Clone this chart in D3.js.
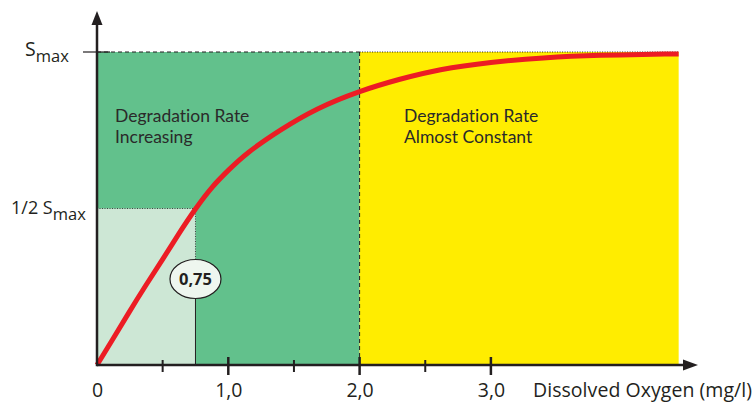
<!DOCTYPE html>
<html><head><meta charset="utf-8">
<script src="https://cdn.jsdelivr.net/npm/d3@7"></script>
<style>
html,body{margin:0;padding:0;background:#fff;}
svg{display:block;font-family:"Open Sans",sans-serif;}
text{font-variant-ligatures:none;}
</style></head>
<body><svg id="c" width="756" height="402"></svg>
<script>
// Data (x = dissolved oxygen mg/l, y = S / Smax)
const curveX = [0, 0.12, 0.24, 0.37, 0.5, 0.62, 0.75, 0.88, 1.0, 1.13, 1.4, 1.67, 2.0, 2.3, 2.6, 3.0, 3.4, 3.8, 4.43];
const curveY = [0, 0.082, 0.166, 0.254, 0.337, 0.418, 0.5, 0.572, 0.622, 0.675, 0.753, 0.82, 0.876, 0.913, 0.945, 0.968, 0.982, 0.99, 0.994];
const tickValues = [0, 1, 2, 3];
const tickLabels = ["0", "1,0", "2,0", "3,0"];
const majorTicks = [1, 2, 3];
const minorTicks = [0.5, 1.5, 2.5];
const halfSat = 0.75;       // K (0,75)
const boundary = 2.0;       // start of "almost constant" zone
const xEnd = 4.43;          // right edge of shaded area
const zoneLabels = [["Degradation Rate", "Increasing"], ["Degradation Rate", "Almost Constant"]];
const xTitle = "Dissolved Oxygen (mg/l)";

const svg = d3.select("#c");
const x = d3.scaleLinear().domain([0, 1]).range([97, 228.3]);
const y = d3.scaleLinear().domain([0, 1]).range([365, 52]);
const ink = "#231f20";

// zones
svg.append("rect").attr("x", x(0)).attr("y", y(1)).attr("width", x(boundary) - x(0)).attr("height", y(0) - y(1)).attr("fill", "#62c18c");
svg.append("rect").attr("x", x(boundary)).attr("y", y(1)).attr("width", x(xEnd) - x(boundary)).attr("height", y(0) - y(1)).attr("fill", "#ffed00");
svg.append("rect").attr("x", x(0)).attr("y", y(0.5)).attr("width", x(halfSat) - x(0)).attr("height", y(0) - y(0.5)).attr("fill", "#cde7d5");

// guide lines
svg.append("line").attr("x1", x(0)).attr("x2", x(boundary)).attr("y1", y(1)).attr("y2", y(1))
  .attr("stroke", ink).attr("stroke-width", 1).attr("stroke-dasharray", "4,3");
svg.append("line").attr("x1", x(boundary)).attr("x2", x(xEnd)).attr("y1", y(1)).attr("y2", y(1))
  .attr("stroke", ink).attr("stroke-width", 1).attr("stroke-dasharray", "1,1.5");
svg.append("line").attr("x1", x(boundary)).attr("x2", x(boundary)).attr("y1", y(1)).attr("y2", y(0))
  .attr("stroke", ink).attr("stroke-width", 1).attr("stroke-dasharray", "4,3");
svg.append("line").attr("x1", x(0)).attr("x2", x(halfSat)).attr("y1", y(0.5)).attr("y2", y(0.5))
  .attr("stroke", "#444").attr("stroke-width", 1).attr("stroke-dasharray", "1,1.5");
svg.append("line").attr("x1", x(halfSat)).attr("x2", x(halfSat)).attr("y1", y(0.5)).attr("y2", 262)
  .attr("stroke", "#444").attr("stroke-width", 1).attr("stroke-dasharray", "1,1.5");
svg.append("line").attr("x1", x(halfSat)).attr("x2", x(halfSat)).attr("y1", 296).attr("y2", y(0))
  .attr("stroke", ink).attr("stroke-width", 1);

// zone labels (one text element per line)
function zoneText(lines, px, py) {
  lines.forEach((l, i) => svg.append("text").attr("x", px).attr("y", py + i * 20.5)
    .attr("fill", "#2a2a2a").attr("font-family", "Lato, sans-serif").attr("font-size", 17.5).text(l));
}
zoneText(zoneLabels[0], 115, 122);
zoneText(zoneLabels[1], 404, 122);

// curve
const pts = curveX.map((v, i) => [v, curveY[i]]);
svg.append("path").datum(pts)
  .attr("d", d3.line().x(d => x(d[0])).y(d => y(d[1])).curve(d3.curveBasis))
  .attr("fill", "none").attr("stroke", "#ec1c24").attr("stroke-width", 5);

// ellipse label
svg.append("ellipse").attr("cx", x(halfSat)).attr("cy", 279).attr("rx", 25.5).attr("ry", 19.5)
  .attr("fill", "#eef6ef").attr("stroke", ink).attr("stroke-width", 1.2);
svg.append("text").attr("x", x(halfSat)).attr("y", 285).attr("text-anchor", "middle")
  .attr("font-weight", "bold").attr("font-size", 16.5).attr("fill", ink).text("0,75");

// axes
svg.append("line").attr("x1", x(0)).attr("x2", 686).attr("y1", y(0)).attr("y2", y(0)).attr("stroke", ink).attr("stroke-width", 2.5);
svg.append("path").attr("d", "M698,365 L683,359.5 L683,370.5 Z").attr("fill", ink);
svg.append("line").attr("x1", x(0)).attr("x2", x(0)).attr("y1", y(0) + 1.2).attr("y2", 22).attr("stroke", ink).attr("stroke-width", 2.5);
svg.append("path").attr("d", "M97,11 L91.5,25 L102.5,25 Z").attr("fill", ink);

// ticks
svg.selectAll(".maj").data(majorTicks).join("line")
  .attr("x1", d => x(d)).attr("x2", d => x(d)).attr("y1", 357).attr("y2", 375)
  .attr("stroke", ink).attr("stroke-width", 2.5);
svg.selectAll(".min").data(minorTicks).join("line")
  .attr("x1", d => x(d)).attr("x2", d => x(d)).attr("y1", 360).attr("y2", 372)
  .attr("stroke", ink).attr("stroke-width", 2);
const ax = d3.axisBottom(x).tickValues(tickValues).tickFormat((d, i) => tickLabels[i]).tickSize(0).tickPadding(0);
const g = svg.append("g").attr("transform", "translate(0,383)").call(ax);
g.select(".domain").remove();
g.selectAll("text").attr("font-size", 19.5).attr("fill", ink).attr("font-family", "Open Sans, sans-serif").attr("dy", "0.71em");

svg.append("text").attr("x", 533).attr("y", 397).attr("font-size", 19.5).attr("fill", ink).attr("textLength", 219).text(xTitle);

// y labels
svg.append("line").attr("x1", 83).attr("x2", 110).attr("y1", y(1)).attr("y2", y(1)).attr("stroke", ink).attr("stroke-width", 1.2);
const s1 = svg.append("text").attr("x", 25).attr("y", 56).attr("fill", ink).attr("font-size", 19.5);
s1.append("tspan").text("S");
s1.append("tspan").attr("font-size", 16.5).attr("dy", 6).text("max");
const s2 = svg.append("text").attr("x", 11).attr("y", 214).attr("fill", ink).attr("font-size", 18);
s2.append("tspan").text("1/2 S");
s2.append("tspan").attr("font-size", 16.5).attr("dy", 6).text("max");
</script></body></html>
